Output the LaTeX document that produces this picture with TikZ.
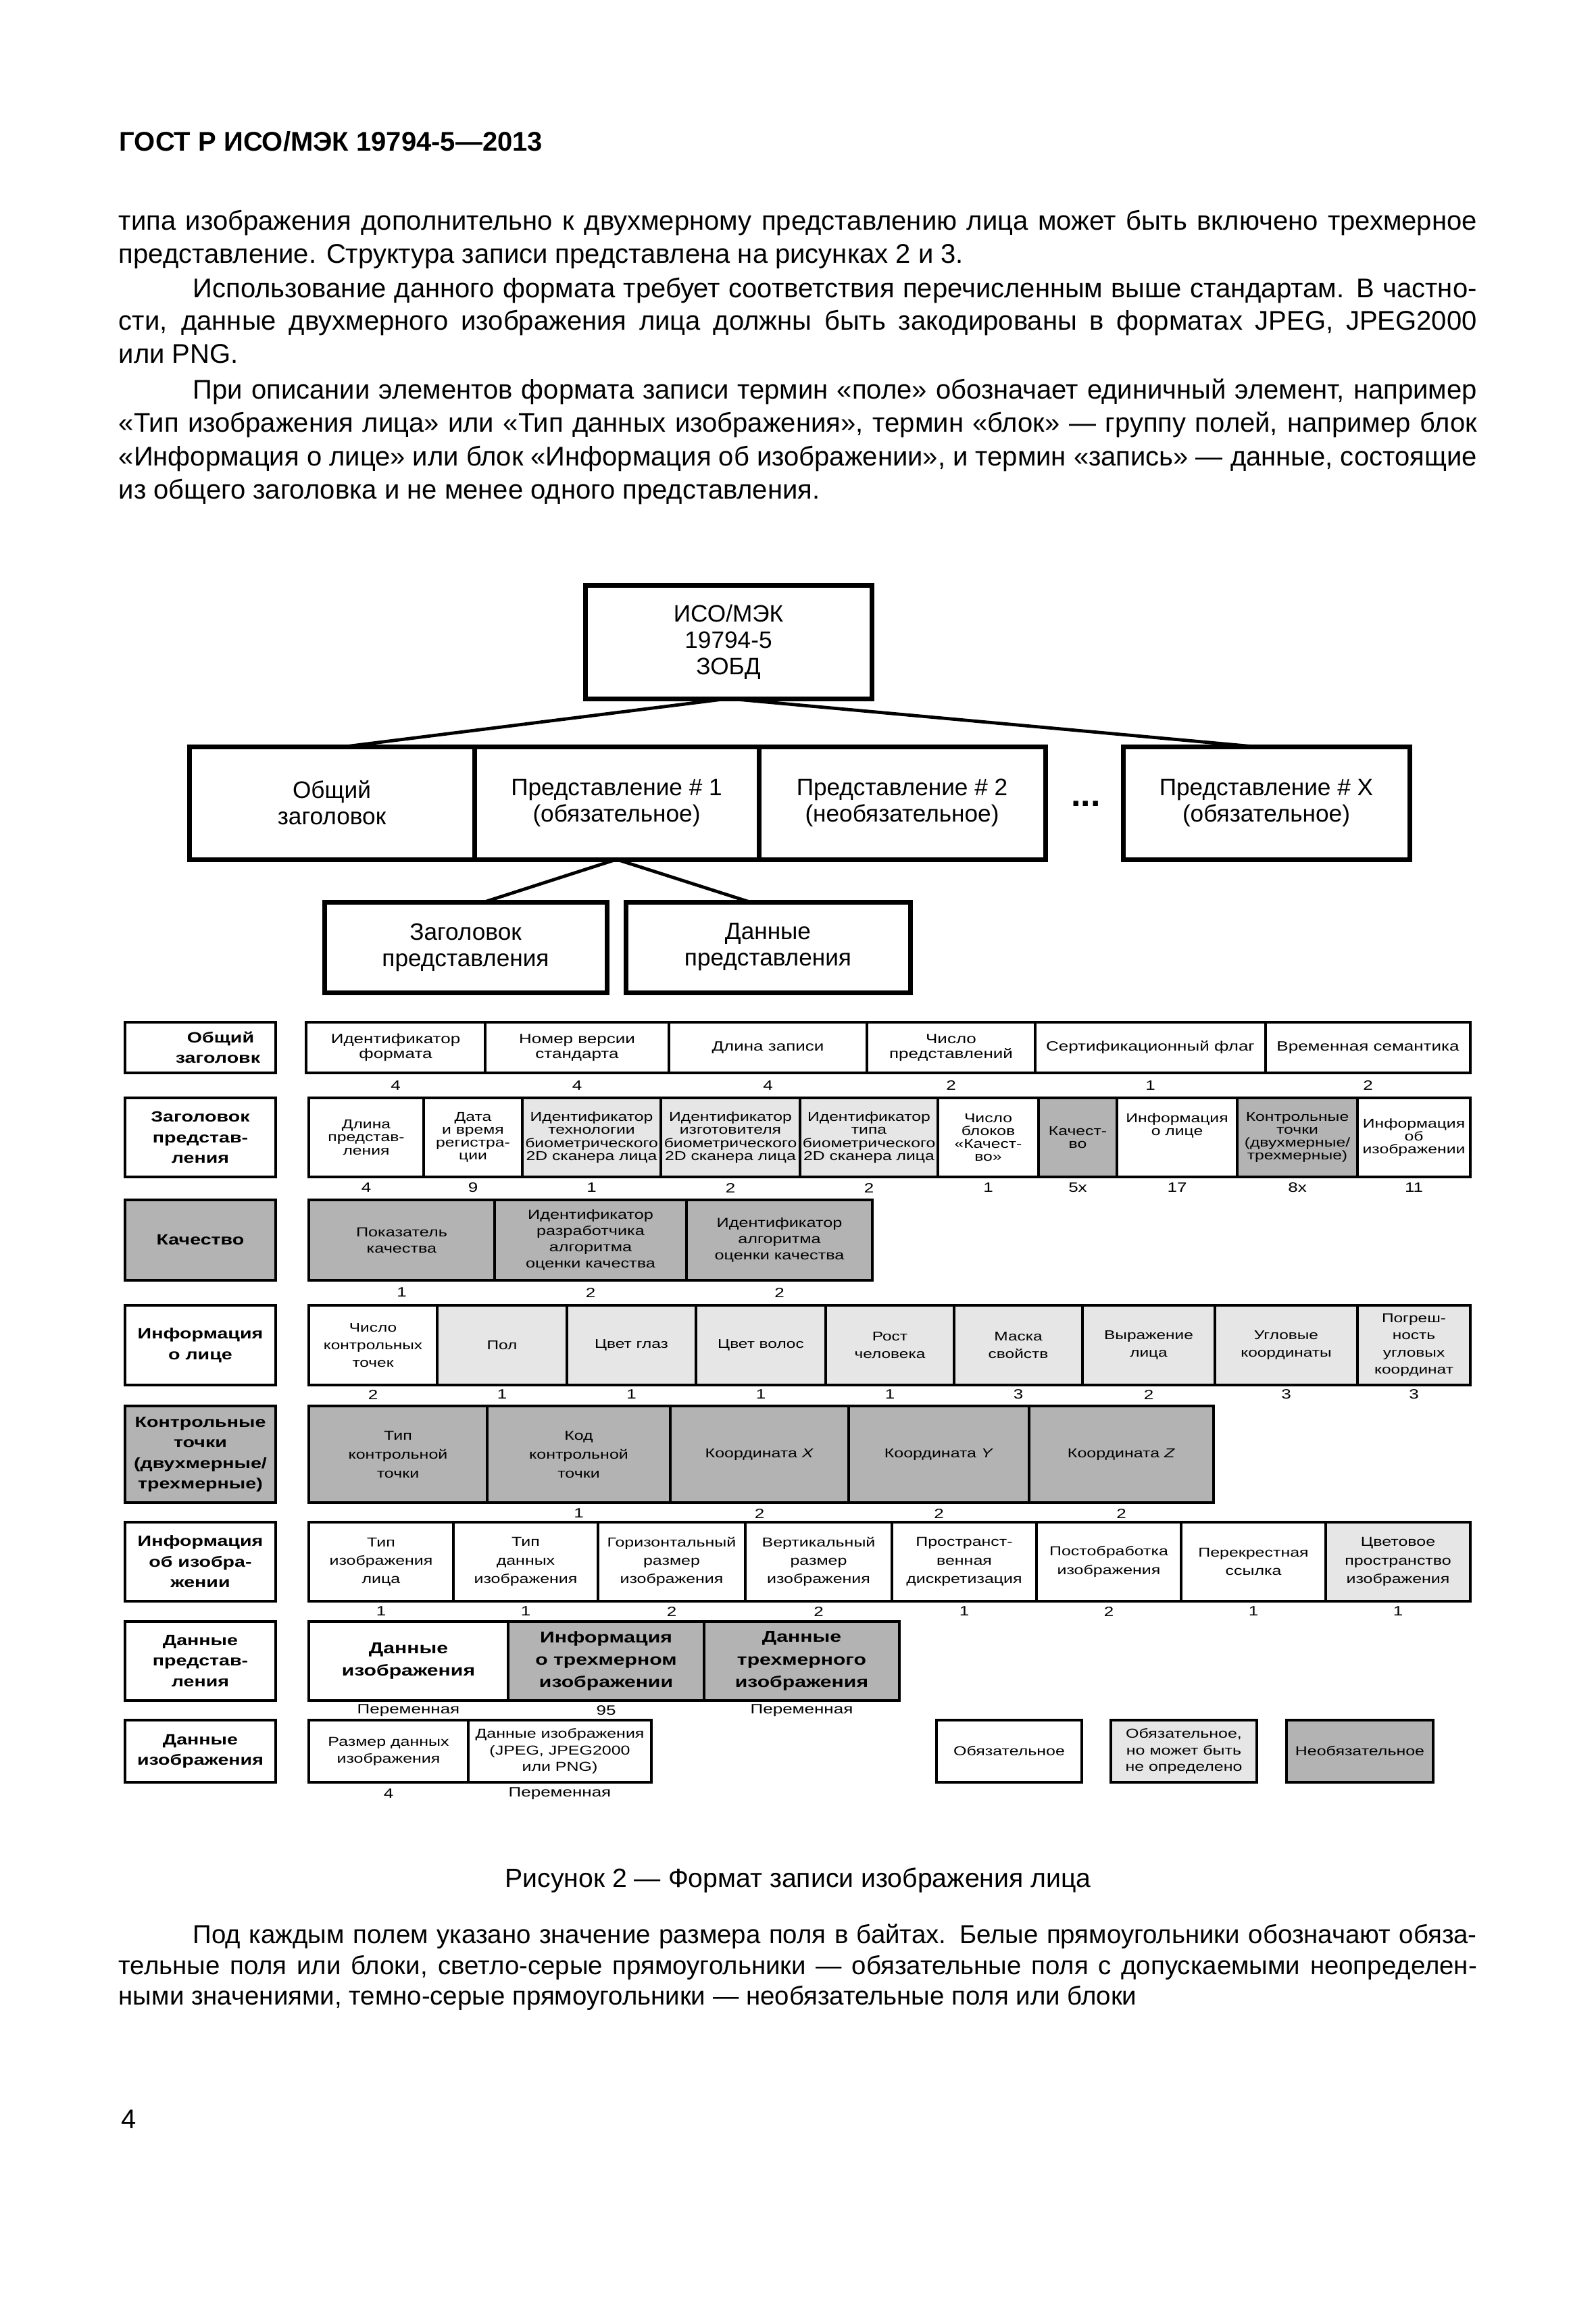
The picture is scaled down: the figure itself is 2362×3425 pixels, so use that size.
\documentclass[tikz,border=0pt]{standalone}
\usepackage{fontspec}
\setmainfont{Liberation Sans}
\newfontfamily\tabf{Liberation Sans}[FakeStretch=1.3]
\usetikzlibrary{calc}
\definecolor{lgray}{HTML}{E6E6E6}
\definecolor{dgray}{HTML}{B3B3B3}
\newcommand\rowfA{\tabf\fontsize{5}{5.6}\selectfont}
\newcommand\rowfB{\tabf\fontsize{4.75}{4.8}\selectfont}
\newcommand\rowfC{\tabf\fontsize{4.85}{6}\selectfont}
\newcommand\rowfD{\tabf\fontsize{4.7}{6.4}\selectfont}
\newcommand\rowfE{\tabf\fontsize{4.8}{7}\selectfont}
\newcommand\rowfF{\tabf\fontsize{4.8}{6.8}\selectfont}
\newcommand\rowfG{\tabf\bfseries\fontsize{5.8}{8.3}\selectfont}
\newcommand\rowfH{\tabf\fontsize{4.8}{6.2}\selectfont}
\newcommand\rowfL{\tabf\bfseries\fontsize{5.5}{7.6}\selectfont}
\newcommand\rowfN{\tabf\fontsize{5}{6}\selectfont}
\newcommand\fcell[8][cellst]{%
  \node[#1,fill=#7,minimum width={(#4-#3)*0.25pt},minimum height={(#6-#5)*0.25pt}] (#2) at ({(#3+#4)/2},{(#5+#6)/2}) {#8};}
\newcommand\fnum[4]{\node[numst] (#1) at (#2 |- 0,#3) {#4};}
\begin{document}
\begin{tikzpicture}[x=0.25pt,y=-0.25pt,
  cellst/.style={draw=black,line width=0.85pt,inner sep=0pt,outer sep=0pt,align=center},
  lblst/.style={draw=black,line width=1.15pt,inner sep=0pt,outer sep=0pt,align=center,font=\rowfL},
  legst/.style={draw=black,line width=1.15pt,inner sep=0pt,outer sep=0pt,align=center,font=\rowfH},
  treebox/.style={draw=black,line width=1.75pt,inner sep=0pt,outer sep=0pt,align=center,font=\fontsize{8.8}{9.75}\selectfont},
  rowout/.style={draw=black,line width=1.15pt},
  conn/.style={line width=1.2pt},
  numst/.style={inner sep=0pt,font=\rowfN},
  bodyl/.style={anchor=base west,inner sep=0pt,font=\fontsize{10}{12}\selectfont},
  finl/.style={anchor=base west,inner sep=0pt,font=\fontsize{9.6}{11.5}\selectfont}]
\fill[white] (0,0) rectangle (2362,3425);
\useasboundingbox (0,0) rectangle (2362,3425);

% header and text
\node[anchor=base west,inner sep=0pt,font=\bfseries\fontsize{10}{12}\selectfont] (hdr) at (176,224) {ГОСТ Р ИСО/МЭК 19794-5—2013};
\node[bodyl] (b1) at (175,340) {\makebox[502.5pt][s]{типа изображения дополнительно к двухмерному представлению лица может быть включено трехмерное}};
\node[bodyl] (b2) at (175,389) {представление. Структура записи представлена на рисунках 2 и 3.};
\node[bodyl] (b3) at (285,440) {\makebox[475pt][s]{Использование данного формата требует соответствия перечисленным выше стандартам. В частно-}};
\node[bodyl] (b4) at (175,488) {\makebox[502.5pt][s]{сти, данные двухмерного изображения лица должны быть закодированы в форматах JPEG, JPEG2000}};
\node[bodyl] (b5) at (175,537) {или PNG.};
\node[bodyl] (b6) at (285,590) {\makebox[475pt][s]{При описании элементов формата записи термин «поле» обозначает единичный элемент, например}};
\node[bodyl] (b7) at (175,639) {\makebox[502.5pt][s]{«Тип изображения лица» или «Тип данных изображения», термин «блок» — группу полей, например блок}};
\node[bodyl] (b8) at (175,689) {\makebox[502.5pt][s]{«Информация о лице» или блок «Информация об изображении», и термин «запись» — данные, состоящие}};
\node[bodyl] (b9) at (175,738) {из общего заголовка и не менее одного представления.};

% tree
\fcell[treebox]{T0}{866}{1290}{866}{1034}{white}{ИСО/МЭК\\19794-5\\ЗОБД}
\fcell[treebox]{T1}{280}{702}{1105}{1272}{white}{Общий\\заголовок}
\fcell[treebox]{T2}{702}{1123}{1105}{1272}{white}{Представление \# 1\\(обязательное)}
\fcell[treebox]{T3}{1123}{1547}{1105}{1272}{white}{Представление \# 2\\(необязательное)}
\fcell[treebox]{T4}{1662}{2086}{1105}{1272}{white}{Представление \# X\\(обязательное)}
\fcell[treebox]{T5}{480}{898}{1335}{1469}{white}{Заголовок\\представления}
\fcell[treebox]{T6}{926}{1347}{1335}{1469}{white}{Данные\\представления}
\node[inner sep=0pt,font=\bfseries\fontsize{13}{13}\selectfont] (dots) at (1607,1190) {...};
\draw[conn] (T0.south) -- ([xshift=5pt]T1.north);
\draw[conn] (T0.south) -- ([xshift=-4.5pt]T4.north);
\draw[conn] (T2.south) -- ([xshift=7pt]T5.north);
\draw[conn] (T2.south) -- ([xshift=-6.75pt]T6.north);

% row A: general header
\fcell[lblst]{LA}{185}{408}{1513}{1588}{white}{\hspace*{15pt}Общий\\\hspace*{13pt}заголовк}
\begin{scope}[cellst/.append style={font=\rowfA}]
\fcell{cA1}{453}{718}{1513}{1588}{white}{Идентификатор\\формата}
\fcell{cA2}{718}{990}{1513}{1588}{white}{Номер версии\\стандарта}
\fcell{cA3}{990}{1283}{1513}{1588}{white}{Длина записи}
\fcell{cA4}{1283}{1532}{1513}{1588}{white}{Число\\представлений}
\fcell{cA5}{1532}{1873}{1513}{1588}{white}{Сертификационный флаг}
\fcell{cA6}{1873}{2176}{1513}{1588}{white}{Временная семантика}
\end{scope}
\draw[rowout] (cA1.north west) rectangle (cA6.south east);
\fnum{nA1}{cA1}{1607}{4}\fnum{nA2}{cA2}{1607}{4}\fnum{nA3}{cA3}{1607}{4}
\fnum{nA4}{cA4}{1607}{2}\fnum{nA5}{cA5}{1607}{1}\fnum{nA6}{cA6}{1607}{2}

% row B: representation header
\fcell[lblst]{LB}{185}{408}{1625}{1742}{white}{Заголовок\\представ-\\ления}
\begin{scope}[cellst/.append style={font=\rowfB}]
\fcell{cB1}{457}{627}{1625}{1742}{white}{Длина\\представ-\\ления}
\fcell{cB2}{627}{773}{1625}{1742}{white}{Дата\\и время\\регистра-\\ции}
\fcell{cB3}{773}{978}{1625}{1742}{lgray}{Идентификатор\\технологии\\биометрического\\2D сканера лица}
\fcell{cB4}{978}{1184}{1625}{1742}{lgray}{Идентификатор\\изготовителя\\биометрического\\2D сканера лица}
\fcell{cB5}{1184}{1388}{1625}{1742}{lgray}{Идентификатор\\типа\\биометрического\\2D сканера лица}
\fcell{cB6}{1388}{1537}{1625}{1742}{white}{Число\\блоков\\«Качест-\\во»}
\fcell{cB7}{1537}{1653}{1625}{1742}{dgray}{Качест-\\во}
\fcell{cB8}{1653}{1831}{1625}{1742}{white}{Информация\\о лице\\~\\~}
\fcell{cB9}{1831}{2009}{1625}{1742}{dgray}{Контрольные\\точки\\(двухмерные/\\трехмерные)}
\fcell{cB10}{2009}{2176}{1625}{1742}{white}{Информация\\об\\изображении}
\end{scope}
\draw[rowout] (cB1.north west) rectangle (cB10.south east);
\fnum{nB1}{cB1}{1758}{4}\fnum{nB2}{cB2}{1758}{9}\fnum{nB3}{cB3}{1758}{1}
\fnum{nB4}{cB4}{1758}{2}\fnum{nB5}{cB5}{1758}{2}\fnum{nB6}{cB6}{1758}{1}
\fnum{nB7}{cB7}{1758}{5x}\fnum{nB8}{cB8}{1758}{17}\fnum{nB9}{cB9}{1758}{8x}
\fnum{nB10}{cB10}{1758}{11}

% row C: quality
\fcell[lblst]{LC}{185}{408}{1776}{1895}{dgray}{Качество}
\begin{scope}[cellst/.append style={font=\rowfC}]
\fcell{cC1}{457}{732}{1776}{1895}{dgray}{Показатель\\качества}
\fcell{cC2}{732}{1016}{1776}{1895}{dgray}{Идентификатор\\разработчика\\алгоритма\\оценки качества}
\fcell{cC3}{1016}{1291}{1776}{1895}{dgray}{Идентификатор\\алгоритма\\оценки качества}
\end{scope}
\draw[rowout] (cC1.north west) rectangle (cC3.south east);
\fnum{nC1}{cC1}{1913}{1}\fnum{nC2}{cC2}{1913}{2}\fnum{nC3}{cC3}{1913}{2}

% row D: face information
\fcell[lblst]{LD}{185}{408}{1932}{2050}{white}{Информация\\о лице}
\begin{scope}[cellst/.append style={font=\rowfD}]
\fcell{cD1}{457}{647}{1932}{2050}{white}{Число\\контрольных\\точек}
\fcell{cD2}{647}{839}{1932}{2050}{lgray}{Пол}
\fcell{cD3}{839}{1030}{1932}{2050}{lgray}{Цвет глаз}
\fcell{cD4}{1030}{1222}{1932}{2050}{lgray}{Цвет волос}
\fcell{cD5}{1222}{1412}{1932}{2050}{lgray}{Рост\\человека}
\fcell{cD6}{1412}{1602}{1932}{2050}{lgray}{Маска\\свойств}
\fcell{cD7}{1602}{1798}{1932}{2050}{lgray}{Выражение\\лица}
\fcell{cD8}{1798}{2009}{1932}{2050}{lgray}{Угловые\\координаты}
\fcell{cD9}{2009}{2176}{1932}{2050}{lgray}{Погреш-\\ность\\угловых\\координат}
\end{scope}
\draw[rowout] (cD1.north west) rectangle (cD9.south east);
\fnum{nD1}{cD1}{2064}{2}\fnum{nD2}{cD2}{2064}{1}\fnum{nD3}{cD3}{2064}{1}
\fnum{nD4}{cD4}{2064}{1}\fnum{nD5}{cD5}{2064}{1}\fnum{nD6}{cD6}{2064}{3}
\fnum{nD7}{cD7}{2064}{2}\fnum{nD8}{cD8}{2064}{3}\fnum{nD9}{cD9}{2064}{3}

% row E: landmark points
\fcell[lblst]{LE}{185}{408}{2081}{2224}{dgray}{\fontsize{5.5}{7.2}\selectfont Контрольные\\точки\\(двухмерные/\\трехмерные)}
\begin{scope}[cellst/.append style={font=\rowfE}]
\fcell{cE1}{457}{721}{2081}{2224}{dgray}{Тип\\контрольной\\точки}
\fcell{cE2}{721}{992}{2081}{2224}{dgray}{Код\\контрольной\\точки}
\fcell{cE3}{992}{1256}{2081}{2224}{dgray}{Координата \textit{X}}
\fcell{cE4}{1256}{1523}{2081}{2224}{dgray}{Координата \textit{Y}}
\fcell{cE5}{1523}{1796}{2081}{2224}{dgray}{Координата \textit{Z}}
\end{scope}
\draw[rowout] (cE1.north west) rectangle (cE5.south east);
\fnum{nE2}{cE2}{2240}{1}\fnum{nE3}{cE3}{2240}{2}\fnum{nE4}{cE4}{2240}{2}\fnum{nE5}{cE5}{2240}{2}

% row F: image information
\fcell[lblst]{LF}{185}{408}{2253}{2370}{white}{Информация\\об изобра-\\жении}
\begin{scope}[cellst/.append style={font=\rowfF}]
\fcell{cF1}{457}{671}{2253}{2370}{white}{Тип\\изображения\\лица}
\fcell{cF2}{671}{885}{2253}{2370}{white}{Тип\\данных\\изображения}
\fcell{cF3}{885}{1103}{2253}{2370}{white}{Горизонтальный\\размер\\изображения}
\fcell{cF4}{1103}{1320}{2253}{2370}{white}{Вертикальный\\размер\\изображения}
\fcell{cF5}{1320}{1534}{2253}{2370}{white}{Пространст-\\венная\\дискретизация}
\fcell{cF6}{1534}{1748}{2253}{2370}{white}{Постобработка\\изображения}
\fcell{cF7}{1748}{1962}{2253}{2370}{white}{Перекрестная\\ссылка}
\fcell{cF8}{1962}{2176}{2253}{2370}{lgray}{Цветовое\\пространство\\изображения}
\end{scope}
\draw[rowout] (cF1.north west) rectangle (cF8.south east);
\fnum{nF1}{cF1}{2385}{1}\fnum{nF2}{cF2}{2385}{1}\fnum{nF3}{cF3}{2385}{2}
\fnum{nF4}{cF4}{2385}{2}\fnum{nF5}{cF5}{2385}{1}\fnum{nF6}{cF6}{2385}{2}
\fnum{nF7}{cF7}{2385}{1}\fnum{nF8}{cF8}{2385}{1}

% row G: representation data
\fcell[lblst]{LG}{185}{408}{2400}{2517}{white}{Данные\\представ-\\ления}
\begin{scope}[cellst/.append style={font=\rowfG}]
\fcell{cG1}{457}{752}{2400}{2517}{white}{Данные\\изображения}
\fcell{cG2}{752}{1042}{2400}{2517}{dgray}{Информация\\о трехмерном\\изображении}
\fcell{cG3}{1042}{1331}{2400}{2517}{dgray}{Данные\\трехмерного\\изображения}
\end{scope}
\draw[rowout] (cG1.north west) rectangle (cG3.south east);
\fnum{nG1}{cG1}{2532}{Переменная}\fnum{nG2}{cG2}{2532}{95}\fnum{nG3}{cG3}{2532}{Переменная}

% row H: image data
\fcell[lblst]{LH}{185}{408}{2546}{2638}{white}{Данные\\изображения}
\begin{scope}[cellst/.append style={font=\rowfH}]
\fcell{cH1}{457}{693}{2546}{2638}{white}{Размер данных\\изображения}
\fcell{cH2}{693}{964}{2546}{2638}{white}{Данные изображения\\(JPEG, JPEG2000\\или PNG)}
\end{scope}
\draw[rowout] (cH1.north west) rectangle (cH2.south east);
\fnum{nH1}{cH1}{2655}{4}\fnum{nH2}{cH2}{2655}{Переменная}

% legend
\fcell[legst]{K1}{1386}{1601}{2546}{2638}{white}{Обязательное}
\fcell[legst]{K2}{1644}{1860}{2546}{2638}{lgray}{Обязательное,\\но может быть\\не определено}
\fcell[legst]{K3}{1904}{2121}{2546}{2638}{dgray}{Необязательное}

% caption and notes
\node[anchor=base,inner sep=0pt,font=\fontsize{9.8}{12}\selectfont] (cap) at (1181,2793) {Рисунок 2 — Формат записи изображения лица};
\node[finl] (f1) at (285,2876) {\makebox[475pt][s]{Под каждым полем указано значение размера поля в байтах. Белые прямоугольники обозначают обяза-}};
\node[finl] (f2) at (175,2922) {\makebox[502.5pt][s]{тельные поля или блоки, светло-серые прямоугольники — обязательные поля с допускаемыми неопределен-}};
\node[finl] (f3) at (175,2967) {ными значениями, темно-серые прямоугольники — необязательные поля или блоки};
\node[anchor=base west,inner sep=0pt,font=\fontsize{10}{12}\selectfont] (pg) at (179,3150) {4};
\end{tikzpicture}
\end{document}
